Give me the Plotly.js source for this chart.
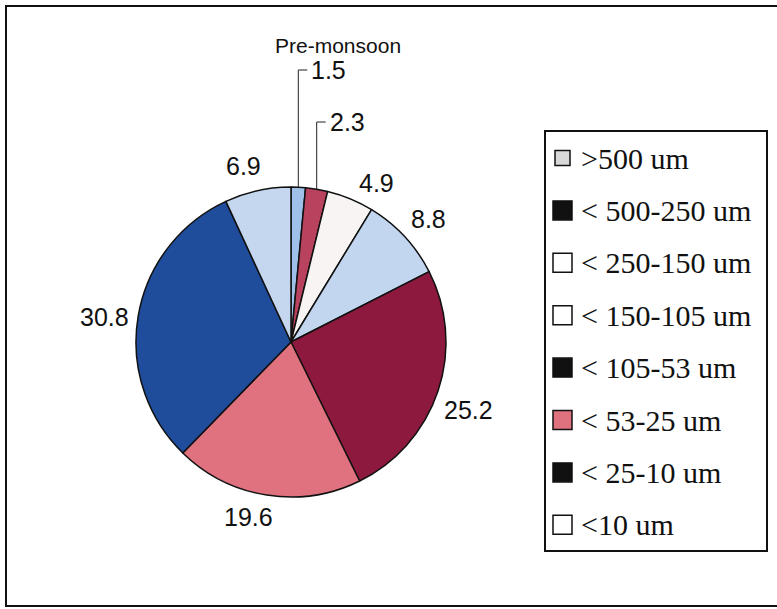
<!DOCTYPE html>
<html>
<head>
<meta charset="utf-8">
<script src="https://cdn.plot.ly/plotly-3.0.1.min.js"></script>
<style>html,body{margin:0;padding:0;background:#fff;}#chart{width:777px;height:609px;}</style>
</head>
<body>
<div id="chart"></div>
<script>
// ---- data ----
var sizeClasses = ['>500 um', '< 500-250 um', '< 250-150 um', '< 150-105 um', '< 105-53 um', '< 53-25 um', '< 25-10 um', '<10 um'];
var percentages = [1.5, 2.3, 4.9, 8.8, 25.2, 19.6, 30.8, 6.9];
var sliceColors = ['#9fc0e8', '#b9425f', '#f7f4f3', '#c2d6ef', '#8d1a3e', '#e0717f', '#1f4d9c', '#c4d7ef'];
// legend swatches as printed in the original figure
var legendSwatchFill = ['#d8d8d8', '#111111', '#ffffff', '#ffffff', '#111111', '#e0717f', '#111111', '#ffffff'];
var chartTitle = 'Pre-monsoon';

// ---- geometry (pixels) ----
var W = 777, H = 609;
var cxPx = 291, cyPx = 342, rPx = 155;
function px(x) { return x / W; }
function py(y) { return 1 - y / H; }
var numFont = { family: 'Liberation Sans, Arial, sans-serif', size: 25, color: '#111' };

// slices with leader lines (the two smallest at the top)
var leaderIdx = [0, 1];
var leaderTopPx = [70, 122];
// small placement nudges (px) for the outside labels, in slice order
var labelNudge = [[0, 0], [0, 0], [14, 5], [0, -3], [0, 12], [-13, 0], [-2, 5], [-7, -3]];

var pie = {
  type: 'pie',
  values: percentages,
  labels: sizeClasses,
  textinfo: 'none',
  sort: false,
  direction: 'clockwise',
  rotation: 0,
  marker: { colors: sliceColors, line: { color: '#111', width: 1.5 } },
  domain: { x: [px(cxPx - rPx), px(cxPx + rPx)], y: [py(cyPx + rPx), py(cyPx - rPx)] },
  showlegend: false,
  hoverinfo: 'label+value'
};

var shapes = [];
var annotations = [];

// outer frame
shapes.push({ type: 'rect', xref: 'paper', yref: 'paper', x0: px(6), x1: px(790), y0: py(606), y1: py(6), line: { color: '#111', width: 2 } });

// title
annotations.push({ xref: 'paper', yref: 'paper', x: px(338), y: py(45), text: chartTitle, showarrow: false,
  font: { family: numFont.family, size: 21, color: '#111' }, xanchor: 'center', yanchor: 'middle' });

// slice labels, positioned from the data angles
var total = percentages.reduce(function (a, b) { return a + b; }, 0);
var cum = [];
var acc = 0;
percentages.forEach(function (v) { cum.push(acc); acc += v; });
var gap = 10, boxW = 44, boxH = 24;
percentages.forEach(function (v, i) {
  var theta = 2 * Math.PI * (cum[i] + v / 2) / total;
  var s = Math.sin(theta), c = Math.cos(theta);
  if (leaderIdx.indexOf(i) >= 0) {
    var k = leaderIdx.indexOf(i);
    var ex = cxPx + rPx * s;
    var ey = cyPx - rPx * c;
    var topY = leaderTopPx[k];
    shapes.push({ type: 'path', xref: 'paper', yref: 'paper',
      path: 'M ' + px(ex) + ' ' + py(ey) + ' L ' + px(ex) + ' ' + py(topY) + ' L ' + px(ex + 9) + ' ' + py(topY),
      line: { color: '#222', width: 1 } });
    annotations.push({ xref: 'paper', yref: 'paper', x: px(ex + 11), y: py(topY), text: v.toFixed(1),
      showarrow: false, xanchor: 'left', yanchor: 'middle', font: numFont });
  } else {
    var lx = cxPx + (rPx + gap) * s + s * boxW / 2 + labelNudge[i][0];
    var ly = cyPx - (rPx + gap) * c - c * boxH / 2 + labelNudge[i][1];
    annotations.push({ xref: 'paper', yref: 'paper', x: px(lx), y: py(ly), text: v.toFixed(1),
      showarrow: false, xanchor: 'center', yanchor: 'middle', font: numFont });
  }
});

// legend box
var lgX0 = 545, lgX1 = 767, lgY0 = 131, lgY1 = 551;
shapes.push({ type: 'rect', xref: 'paper', yref: 'paper', x0: px(lgX0), x1: px(lgX1), y0: py(lgY1), y1: py(lgY0), line: { color: '#111', width: 2 }, fillcolor: 'rgba(0,0,0,0)' });
var rowStart = 158, rowStep = 52.4, sw = 19;
sizeClasses.forEach(function (lab, i) {
  var yc = rowStart + i * rowStep;
  var s = i === 0 ? 15 : sw;
  var sx0 = 553 + (sw - s) / 2;
  shapes.push({ type: 'rect', xref: 'paper', yref: 'paper', x0: px(sx0), x1: px(sx0 + s), y0: py(yc + s / 2), y1: py(yc - s / 2),
    line: { color: '#111', width: 1.5 }, fillcolor: legendSwatchFill[i] });
  annotations.push({ xref: 'paper', yref: 'paper', x: px(579), y: py(yc), text: lab.replace(/</g, '&lt;').replace(/>/g, '&gt;'),
    showarrow: false, xanchor: 'left', yanchor: 'middle',
    font: { family: 'Liberation Serif, Times New Roman, serif', size: 30, color: '#111' } });
});

var layout = {
  width: W, height: H,
  margin: { l: 0, r: 0, t: 0, b: 0 },
  paper_bgcolor: '#fff',
  shapes: shapes,
  annotations: annotations,
  showlegend: false
};

Plotly.newPlot('chart', [pie], layout, { displayModeBar: false, staticPlot: true });
</script>
</body>
</html>
